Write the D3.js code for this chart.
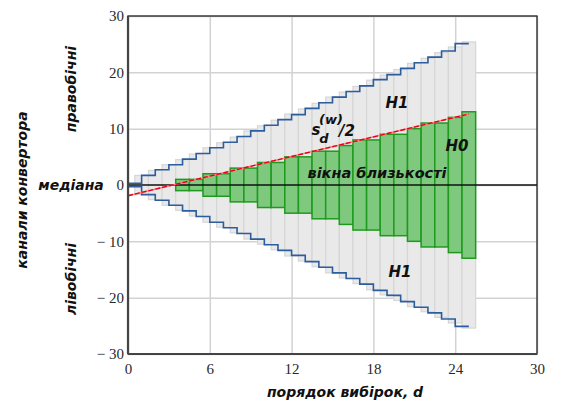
<!DOCTYPE html>
<html>
<head>
<meta charset="utf-8">
<script src="https://cdn.jsdelivr.net/npm/d3@7"></script>
<style>
  body { margin: 0; background: #fff; }
</style>
</head>
<body>
<div id="chart"></div>
<script>
// values
const orders = [1, 2, 3, 4, 5, 6, 7, 8, 9, 10, 11, 12, 13, 14, 15, 16, 17, 18, 19, 20, 21, 22, 23, 24, 25];
// grey bars: reach of H1 region (symmetric, +/-)
const outerBound = [1.7, 2.6, 3.6, 4.5, 5.5, 6.6, 7.5, 8.5, 9.6, 10.5, 11.5, 12.6, 13.5, 14.5, 15.6, 16.5, 17.5, 18.6, 19.5, 20.5, 21.6, 22.5, 23.5, 24.5, 25.4];
// green bars: proximity window half-width (H0)
const windowHalf = [0, 0, 0, 1, 1, 2, 2, 3, 3, 4, 4, 5, 5, 6, 6, 7, 8, 8, 9, 9, 10, 11, 11, 12, 13];
// blue staircase: level held from stepFrom to the next step
const stepFrom = [0, 1, 2, 3, 4, 5, 6, 7, 8, 9, 10, 11, 12, 13, 14, 15, 16, 17, 18, 19, 20, 21, 22, 23, 24, 25];
const stepLevel = [0.3, 1.7, 2.7, 3.6, 4.6, 5.6, 6.6, 7.6, 8.6, 9.6, 10.6, 11.6, 12.5, 13.6, 14.6, 15.6, 16.6, 17.6, 18.7, 19.6, 20.7, 21.7, 22.7, 23.8, 25.1, 25.1];
// red line s_d(w)/2
const lineD = [0, 25];
const lineS = [-1.9, 12.6];

const xTicks = [0, 6, 12, 18, 24, 30];
const yTicks = [-30, -20, -10, 0, 10, 20, 30];

const width = 562;
const height = 403;
const margin = {top: 16, right: 25, bottom: 49, left: 128};
const innerWidth = width - margin.left - margin.right;
const innerHeight = height - margin.top - margin.bottom;

const svg = d3.select("#chart")
  .append("svg")
    .attr("width", width)
    .attr("height", height)
    .style("font-family", "'DejaVu Sans', sans-serif");

const inner = svg.append("g")
  .attr("transform", `translate(${margin.left}, ${margin.top})`);

const xScale = d3.scaleLinear().domain([0, 30]).range([0, innerWidth]);
const yScale = d3.scaleLinear().domain([-30, 30]).range([innerHeight, 0]);

// grid
inner.append("g")
  .attr("class", "grid-x")
  .attr("transform", `translate(0, ${innerHeight})`)
  .call(d3.axisBottom(xScale).tickValues(xTicks).tickSize(-innerHeight).tickFormat(""))
  .call(g => g.select(".domain").remove())
  .selectAll("line")
    .attr("stroke", "#d2d2d2")
    .attr("stroke-width", 1.5);

inner.append("g")
  .attr("class", "grid-y")
  .call(d3.axisLeft(yScale).tickValues(yTicks).tickSize(-innerWidth).tickFormat(""))
  .call(g => g.select(".domain").remove())
  .selectAll("line")
    .attr("stroke", "#d2d2d2")
    .attr("stroke-width", 1.5);

const data = orders.map((d, i) => ({d, outer: outerBound[i], win: windowHalf[i]}));
const barW = xScale(1) - xScale(0);

// grey H1 bars
inner.selectAll(".outer")
  .data(data)
  .join("rect")
    .attr("class", "outer")
    .attr("x", d => xScale(d.d - 0.5))
    .attr("width", barW)
    .attr("y", d => yScale(d.outer))
    .attr("height", d => yScale(-d.outer) - yScale(d.outer))
    .attr("fill", "#e9e9e9")
    .attr("stroke", "#d6d6d6")
    .attr("stroke-width", 1.2);

// green H0 bars
inner.selectAll(".win")
  .data(data.filter(d => d.win > 0))
  .join("rect")
    .attr("class", "win")
    .attr("x", d => xScale(d.d - 0.5))
    .attr("width", barW)
    .attr("y", d => yScale(d.win))
    .attr("height", d => yScale(-d.win) - yScale(d.win))
    .attr("fill", "#7fc97f")
    .attr("stroke", "#1f9a1f")
    .attr("stroke-width", 1.5);

// blue staircases
const steps = stepFrom.map((d, i) => ({d, v: stepLevel[i]}));
const stepLine = d3.line()
  .x(p => xScale(p.d))
  .y(p => yScale(p.v))
  .curve(d3.curveStepAfter);
const stepLineLow = d3.line()
  .x(p => xScale(p.d))
  .y(p => yScale(-p.v))
  .curve(d3.curveStepAfter);

[stepLine, stepLineLow].forEach(gen => {
  inner.append("path")
    .attr("d", gen(steps))
    .attr("fill", "none")
    .attr("stroke", "#2c5d9d")
    .attr("stroke-width", 1.6);
});

// median line
inner.append("line")
  .attr("x1", 0)
  .attr("x2", innerWidth)
  .attr("y1", yScale(0))
  .attr("y2", yScale(0))
  .attr("stroke", "#111")
  .attr("stroke-width", 1.6);

// red s_d/2 line
const redLine = d3.line()
  .x((d, i) => xScale(lineD[i]))
  .y(d => yScale(d));
inner.append("path")
  .attr("d", redLine(lineS))
  .attr("fill", "none")
  .attr("stroke", "#ff8080")
  .attr("stroke-width", 1.5);
inner.append("path")
  .attr("d", redLine(lineS))
  .attr("fill", "none")
  .attr("stroke", "#e8001a")
  .attr("stroke-width", 1.4)
  .attr("stroke-dasharray", "5,2");

// frame
inner.append("rect")
  .attr("width", innerWidth)
  .attr("height", innerHeight)
  .attr("fill", "none")
  .attr("stroke", "#222")
  .attr("stroke-width", 1.3);
inner.append("line")
  .attr("x1", 0).attr("x2", 0)
  .attr("y1", 0).attr("y2", innerHeight)
  .attr("stroke", "#444")
  .attr("stroke-width", 2.2);
inner.append("line")
  .attr("x1", 0).attr("x2", innerWidth)
  .attr("y1", innerHeight).attr("y2", innerHeight)
  .attr("stroke", "#444")
  .attr("stroke-width", 2.2);

// axes labels
const bottomAxis = d3.axisBottom(xScale).tickValues(xTicks).tickSize(0).tickPadding(9);
inner.append("g")
  .attr("class", "axis-x")
  .attr("transform", `translate(0, ${innerHeight})`)
  .call(bottomAxis)
  .call(g => g.select(".domain").remove());

const leftAxis = d3.axisLeft(yScale).tickValues(yTicks).tickSize(0).tickPadding(4)
  .tickFormat(v => v < 0 ? "\u2212 " + Math.abs(v) : String(v));
inner.append("g")
  .attr("class", "axis-y")
  .call(leftAxis)
  .call(g => g.select(".domain").remove());

d3.selectAll(".axis-x text, .axis-y text")
  .style("font-family", "'Liberation Serif', 'Times New Roman', serif")
  .style("font-size", "15px")
  .attr("fill", "#2a2a2a");

// annotations
const label = (txt, x, y, opts = {}) => {
  const g = svg.append("g")
    .attr("transform", opts.rotate ? `translate(${x}, ${y}) rotate(-90)` : `translate(${x}, ${y})`);
  g.append("text")
    .text(txt)
    .attr("text-anchor", opts.anchor || "middle")
    .style("font-size", (opts.size || 14) + "px")
    .style("font-weight", "bold")
    .style("font-style", "italic")
    .attr("fill", "#111");
};

label("H1", 397, 108, {size: 15});
label("H1", 400, 277, {size: 15});
label("H0", 457, 151, {size: 15});
label("вікна близькості", 377, 178, {size: 14.5});
label("медіана", 71, 190);
label("порядок вибірок, d", 345, 397);
label("правобічні", 76, 89, {rotate: true});
label("лівобічні", 76, 279, {rotate: true});
label("канали конвертора", 27, 190, {rotate: true});

// s_d^(w)/2
label("s", 316, 135, {size: 15});
label("d", 324, 143, {size: 13});
label("(w)", 331, 124, {size: 13});
label("/2", 347, 136, {size: 15});
</script>
</body>
</html>
